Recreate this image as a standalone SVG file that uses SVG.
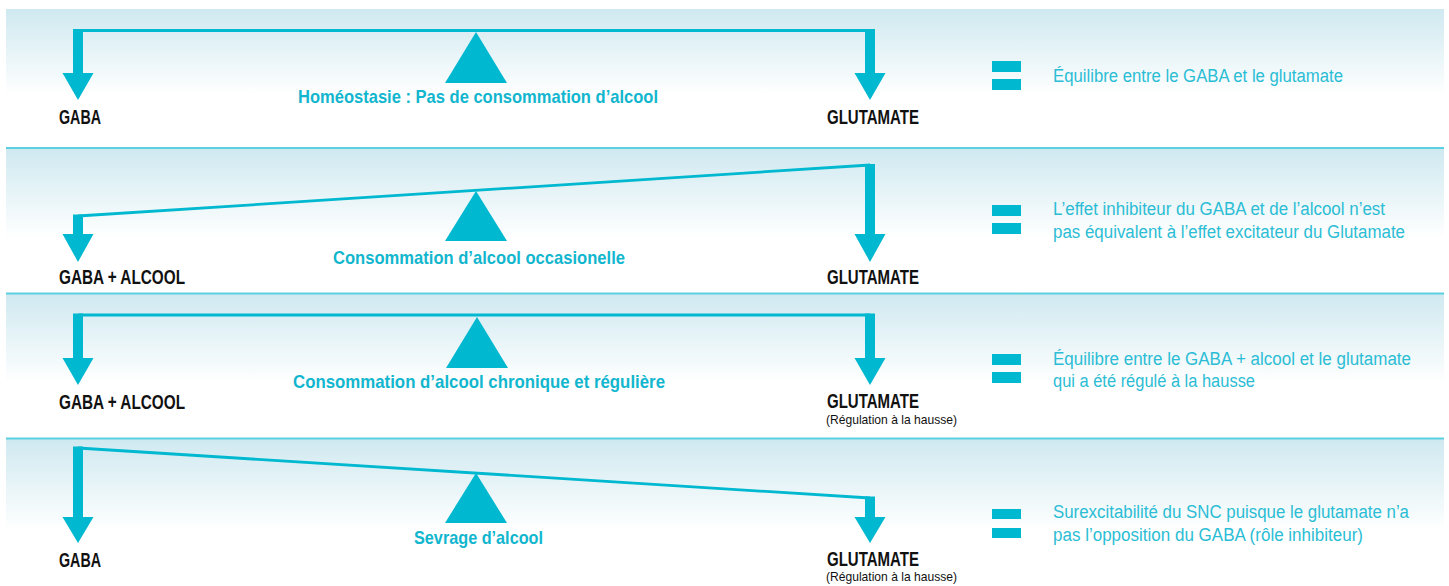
<svg xmlns="http://www.w3.org/2000/svg" width="1449" height="586" viewBox="0 0 1449 586">
  <defs>
    <linearGradient id="bg" x1="0" y1="0" x2="0" y2="1">
      <stop offset="0" stop-color="#cfe9f0"/>
      <stop offset="0.62" stop-color="#ffffff"/>
      <stop offset="1" stop-color="#ffffff"/>
    </linearGradient>
  </defs>
  <style>
    .sep{stroke:#5ccfe0;stroke-width:2;fill:none}
    .beam{stroke:#00b8cf;stroke-width:2.8;fill:none}
    .fill{fill:#00b8cf}
    .node{font-family:"Liberation Sans",Arial,sans-serif;font-weight:bold;font-size:20px;fill:#111111}
    .sub{font-family:"Liberation Sans",Arial,sans-serif;font-size:13px;fill:#111111}
    .lbl{font-family:"Liberation Sans",Arial,sans-serif;font-weight:bold;font-size:19px;fill:#12b6ce}
    .desc{font-family:"Liberation Sans",Arial,sans-serif;font-size:18px;fill:#2bbdd5}
  </style>
  <rect width="1449" height="586" fill="#ffffff"/>
  <g id="panels">
    <rect x="6" y="9" width="1438" height="139" fill="url(#bg)"/>
    <rect x="6" y="149" width="1438" height="144" fill="url(#bg)"/>
    <rect x="6" y="294" width="1438" height="144" fill="url(#bg)"/>
    <rect x="6" y="439" width="1438" height="147" fill="url(#bg)"/>
    <line class="sep" x1="6" y1="148" x2="1444" y2="148"/>
    <line class="sep" x1="6" y1="293.5" x2="1444" y2="293.5"/>
    <line class="sep" x1="6" y1="438.5" x2="1444" y2="438.5"/>
  </g>
  <g id="connectors">
    <line class="beam" x1="78" y1="30.5" x2="870" y2="30.5"/>
    <rect class="fill" x="73" y="29" width="10" height="45"/>
    <polygon class="fill" points="62.5,73 93.5,73 78,100"/>
    <rect class="fill" x="865" y="29" width="10" height="45"/>
    <polygon class="fill" points="854.5,73 885.5,73 870,100"/>
    <line class="beam" x1="78" y1="216" x2="870" y2="165"/>
    <rect class="fill" x="73" y="214.5" width="10" height="20"/>
    <polygon class="fill" points="62.5,234 93.5,234 78,262"/>
    <rect class="fill" x="865" y="164" width="10" height="71"/>
    <polygon class="fill" points="854.5,234 885.5,234 870,262"/>
    <line class="beam" x1="78" y1="315" x2="870" y2="315"/>
    <rect class="fill" x="73" y="313.5" width="10" height="45"/>
    <polygon class="fill" points="62.5,358 93.5,358 78,385"/>
    <rect class="fill" x="865" y="313.5" width="10" height="45"/>
    <polygon class="fill" points="854.5,358 885.5,358 870,385"/>
    <line class="beam" x1="78" y1="448" x2="870" y2="498"/>
    <rect class="fill" x="73" y="446.5" width="10" height="71"/>
    <polygon class="fill" points="62.5,517 93.5,517 78,543"/>
    <rect class="fill" x="865" y="496.5" width="10" height="21"/>
    <polygon class="fill" points="854.5,517 885.5,517 870,543"/>
  </g>
  <g id="panel1">
    <g id="p1-gaba"><text class="node" x="59" y="124" textLength="42" lengthAdjust="spacingAndGlyphs">GABA</text></g>
    <g id="p1-glu"><text class="node" x="827" y="124" textLength="92" lengthAdjust="spacingAndGlyphs">GLUTAMATE</text></g>
    <g id="p1-fulcrum">
      <polygon class="fill" points="476,32 507,83 445,83"/>
      <text class="lbl" x="298" y="103" textLength="360" lengthAdjust="spacingAndGlyphs">Homéostasie : Pas de consommation d’alcool</text>
    </g>
    <g id="p1-result">
      <rect class="fill" x="992" y="61" width="29" height="11"/>
      <rect class="fill" x="992" y="79" width="29" height="11"/>
      <text class="desc" x="1053" y="82" textLength="290" lengthAdjust="spacingAndGlyphs">Équilibre entre le GABA et le glutamate</text>
    </g>
  </g>
  <g id="panel2">
    <g id="p2-gaba"><text class="node" x="59" y="284" textLength="126" lengthAdjust="spacingAndGlyphs">GABA + ALCOOL</text></g>
    <g id="p2-glu"><text class="node" x="827" y="284" textLength="92" lengthAdjust="spacingAndGlyphs">GLUTAMATE</text></g>
    <g id="p2-fulcrum">
      <polygon class="fill" points="476,191 507,241 445,241"/>
      <text class="lbl" x="333" y="264" textLength="292" lengthAdjust="spacingAndGlyphs">Consommation d’alcool occasionelle</text>
    </g>
    <g id="p2-result">
      <rect class="fill" x="992" y="205" width="29" height="11"/>
      <rect class="fill" x="992" y="223" width="29" height="11"/>
      <text class="desc" x="1053" y="215" textLength="332" lengthAdjust="spacingAndGlyphs">L’effet inhibiteur du GABA et de l’alcool n’est</text>
      <text class="desc" x="1053" y="238" textLength="352" lengthAdjust="spacingAndGlyphs">pas équivalent à l’effet excitateur du Glutamate</text>
    </g>
  </g>
  <g id="panel3">
    <g id="p3-gaba"><text class="node" x="59" y="409" textLength="126" lengthAdjust="spacingAndGlyphs">GABA + ALCOOL</text></g>
    <g id="p3-glu">
      <text class="node" x="827" y="408" textLength="92" lengthAdjust="spacingAndGlyphs">GLUTAMATE</text>
      <text class="sub" x="826" y="424" textLength="131" lengthAdjust="spacingAndGlyphs">(Régulation à la hausse)</text>
    </g>
    <g id="p3-fulcrum">
      <polygon class="fill" points="477,317 508,368 446,368"/>
      <text class="lbl" x="293" y="388" textLength="372" lengthAdjust="spacingAndGlyphs">Consommation d’alcool chronique et régulière</text>
    </g>
    <g id="p3-result">
      <rect class="fill" x="992" y="354" width="29" height="11"/>
      <rect class="fill" x="992" y="372" width="29" height="11"/>
      <text class="desc" x="1053" y="365" textLength="358" lengthAdjust="spacingAndGlyphs">Équilibre entre le GABA + alcool et le glutamate</text>
      <text class="desc" x="1053" y="387" textLength="202" lengthAdjust="spacingAndGlyphs">qui a été régulé à la hausse</text>
    </g>
  </g>
  <g id="panel4">
    <g id="p4-gaba"><text class="node" x="59" y="567" textLength="42" lengthAdjust="spacingAndGlyphs">GABA</text></g>
    <g id="p4-glu">
      <text class="node" x="827" y="566" textLength="92" lengthAdjust="spacingAndGlyphs">GLUTAMATE</text>
      <text class="sub" x="826" y="581" textLength="131" lengthAdjust="spacingAndGlyphs">(Régulation à la hausse)</text>
    </g>
    <g id="p4-fulcrum">
      <polygon class="fill" points="476,473 507,523 445,523"/>
      <text class="lbl" x="414" y="544" textLength="129" lengthAdjust="spacingAndGlyphs">Sevrage d’alcool</text>
    </g>
    <g id="p4-result">
      <rect class="fill" x="992" y="509" width="29" height="10"/>
      <rect class="fill" x="992" y="528" width="29" height="10"/>
      <text class="desc" x="1053" y="518" textLength="356" lengthAdjust="spacingAndGlyphs">Surexcitabilité du SNC puisque le glutamate n’a</text>
      <text class="desc" x="1053" y="541" textLength="310" lengthAdjust="spacingAndGlyphs">pas l’opposition du GABA (rôle inhibiteur)</text>
    </g>
  </g>
</svg>
